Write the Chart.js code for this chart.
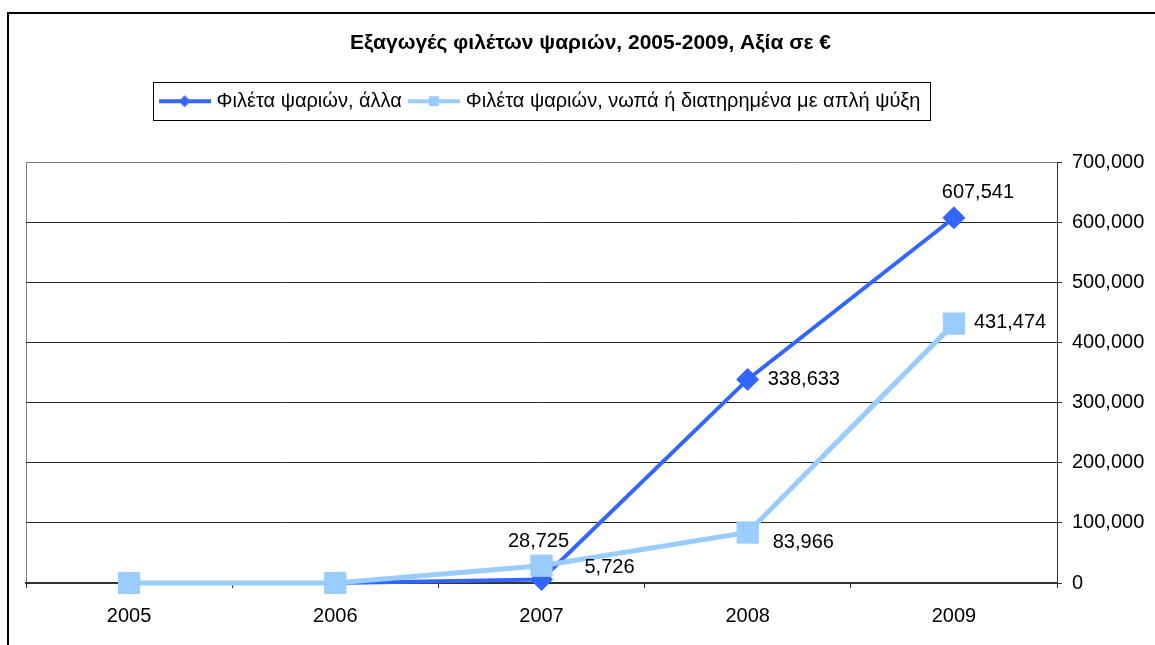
<!DOCTYPE html>
<html>
<head>
<meta charset="utf-8">
<script src="https://cdn.jsdelivr.net/npm/chart.js@4.4.1/dist/chart.umd.min.js"></script>
<style>
  html, body { margin: 0; padding: 0; background: #fff; overflow: hidden; }
  #wrap { position: relative; width: 1155px; height: 645px; }
  #frame { position: absolute; left: 7px; top: 12px; width: 1300px; height: 800px;
           border-left: 2px solid #000; border-top: 2px solid #000; pointer-events: none; }
</style>
</head>
<body>
<div id="wrap">
  <canvas id="chart" width="1155" height="645"></canvas>
  <div id="frame"></div>
</div>
<script>
const years = ['2005', '2006', '2007', '2008', '2009'];
const filletsOther = [0, 0, 5726, 338633, 607541];
const filletsFresh = [0, 0, 28725, 83966, 431474];
const seriesNames = ['Φιλέτα ψαριών, άλλα', 'Φιλέτα ψαριών, νωπά ή διατηρημένα με απλή ψύξη'];
const titleText = 'Εξαγωγές φιλέτων ψαριών, 2005-2009, Αξία σε €';

const darkBlue = '#3366FF';
const lightBlue = '#99CCFF';
const FONT = "'Liberation Sans', Arial, sans-serif";

// where each value label sits relative to its point (null = no label)
const labelPlacement = [
    [null, null, { dx: 43, dy: -12, align: 'left' }, { dx: 20, dy: 0, align: 'left' }, { dx: 24, dy: -25, align: 'center' }],
    [null, null, { dx: -3, dy: -24, align: 'center' }, { dx: 25, dy: 10, align: 'left' }, { dx: 20, dy: -1, align: 'left' }]
];

const fmt = v => Math.round(v).toLocaleString('en-US');

// small line + marker swatch for the legend
function legendSwatch(color, shape, r) {
    const c = document.createElement('canvas');
    c.width = 52; c.height = 16;
    const g = c.getContext('2d');
    g.strokeStyle = color;
    g.lineWidth = 4;
    g.beginPath(); g.moveTo(0, 8); g.lineTo(52, 8); g.stroke();
    g.fillStyle = color;
    g.beginPath();
    if (shape === 'diamond') {
        g.moveTo(26, 8 - r); g.lineTo(26 + r, 8); g.lineTo(26, 8 + r); g.lineTo(26 - r, 8);
    } else {
        g.rect(26 - r, 8 - r, 2 * r, 2 * r);
    }
    g.fill();
    return c;
}
const swatches = [legendSwatch(darkBlue, 'diamond', 6), legendSwatch(lightBlue, 'square', 5)];

const valueLabels = {
    id: 'valueLabels',
    afterDatasetsDraw(chart) {
        const ctx = chart.ctx;
        ctx.save();
        ctx.font = '20px ' + FONT;
        ctx.fillStyle = '#000';
        ctx.textBaseline = 'middle';
        chart.data.datasets.forEach((ds, di) => {
            const meta = chart.getDatasetMeta(di);
            meta.data.forEach((pt, i) => {
                const p = labelPlacement[di][i];
                if (!p) return;
                ctx.textAlign = p.align;
                ctx.fillText(fmt(ds.data[i]), pt.x + p.dx, pt.y + p.dy);
            });
        });
        ctx.restore();
    }
};

const legendFrame = {
    id: 'legendFrame',
    afterDraw(chart) {
        const boxes = chart.legend.legendHitBoxes;
        if (!boxes || !boxes.length) return;
        const left = Math.min(...boxes.map(b => b.left)) - 10;
        const right = Math.max(...boxes.map(b => b.left + b.width)) + 9;
        const mid = boxes[0].top + boxes[0].height / 2;
        const ctx = chart.ctx;
        ctx.save();
        ctx.strokeStyle = '#000';
        ctx.lineWidth = 1;
        ctx.strokeRect(Math.round(left) + 0.5, Math.round(mid - 19) + 0.5, Math.round(right - left), 38);
        ctx.restore();
    }
};

new Chart(document.getElementById('chart'), {
    type: 'line',
    data: {
        labels: years,
        datasets: [{
            label: seriesNames[0],
            data: filletsOther,
            borderColor: darkBlue,
            backgroundColor: darkBlue,
            borderWidth: 4,
            pointStyle: 'rectRot',
            pointRadius: 11,
            pointBorderWidth: 1,
            order: 1,
            clip: false
        }, {
            label: seriesNames[1],
            data: filletsFresh,
            borderColor: lightBlue,
            backgroundColor: lightBlue,
            borderWidth: 5,
            pointStyle: 'rect',
            pointRadius: 15,
            pointBorderWidth: 1,
            order: 0,
            clip: false
        }]
    },
    options: {
        responsive: false,
        animation: false,
        layout: { padding: { left: 26, right: 0, top: 0, bottom: 0 } },
        plugins: {
            tooltip: { enabled: false },
            title: {
                display: true,
                text: titleText,
                color: '#000',
                font: { family: FONT, size: 21, weight: 'bold', lineHeight: 1.2 },
                padding: { top: 31, bottom: 25 }
            },
            legend: {
                display: true,
                position: 'top',
                fullSize: false,
                labels: {
                    color: '#000',
                    font: { family: FONT, size: 20 },
                    padding: 10,
                    usePointStyle: true,
                    pointStyleWidth: 44,
                    sort: (a, b) => a.datasetIndex - b.datasetIndex,
                    generateLabels(chart) {
                        const items = Chart.defaults.plugins.legend.labels.generateLabels(chart);
                        items.forEach(it => { it.pointStyle = swatches[it.datasetIndex]; });
                        return items;
                    }
                }
            },
            // blank spacer between the legend and the plot
            subtitle: {
                display: true,
                text: ' ',
                weight: 500,
                font: { size: 10, lineHeight: 1 },
                padding: { top: 31, bottom: 0 }
            }
        },
        scales: {
            x: {
                offset: true,
                afterFit: s => { s.height = 62; },
                grid: {
                    offset: true,
                    drawOnChartArea: true,
                    color: c => (c.index === 0 ? '#808080' : 'rgba(0,0,0,0)'),
                    tickColor: '#333',
                    tickLength: 5
                },
                border: { display: true, color: '#333', width: 2 },
                ticks: {
                    color: '#000',
                    font: { family: FONT, size: 20 },
                    padding: 16,
                    maxRotation: 0
                }
            },
            y: {
                position: 'right',
                min: 0,
                max: 700000,
                afterFit: s => { s.width = 98; },
                grid: {
                    color: c => (c.tick && c.tick.value === 700000 ? '#808080' : '#262626'),
                    tickColor: '#333',
                    tickLength: 5
                },
                border: { display: true, color: '#333', width: 1 },
                ticks: {
                    stepSize: 100000,
                    color: '#000',
                    font: { family: FONT, size: 20 },
                    padding: 10,
                    callback: v => fmt(v)
                }
            }
        }
    },
    plugins: [valueLabels, legendFrame]
});
</script>
</body>
</html>
